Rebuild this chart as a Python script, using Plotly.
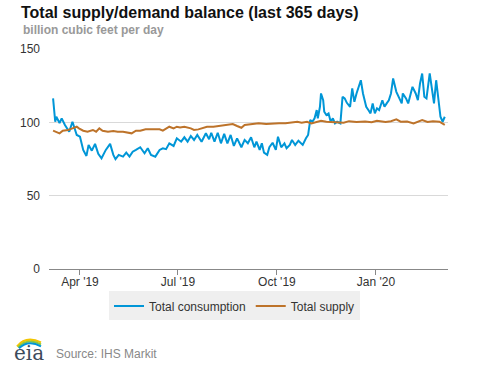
import plotly.graph_objects as go

# ---- data (billion cubic feet per day) ----
cons_dates = [
    "2019-03-07", "2019-03-09", "2019-03-10", "2019-03-13", "2019-03-15", "2019-03-18",
    "2019-03-22", "2019-03-25", "2019-03-29", "2019-04-01", "2019-04-04", "2019-04-07",
    "2019-04-09", "2019-04-12", "2019-04-15", "2019-04-18", "2019-04-21", "2019-04-25",
    "2019-04-29", "2019-05-02", "2019-05-04", "2019-05-07", "2019-05-11", "2019-05-14",
    "2019-05-17", "2019-05-20", "2019-05-23", "2019-05-27", "2019-05-31", "2019-06-03",
    "2019-06-06", "2019-06-10", "2019-06-14", "2019-06-17", "2019-06-20", "2019-06-23",
    "2019-06-27", "2019-06-30", "2019-07-04", "2019-07-07", "2019-07-10", "2019-07-13",
    "2019-07-16", "2019-07-19", "2019-07-23", "2019-07-27", "2019-07-30", "2019-08-01",
    "2019-08-04", "2019-08-07", "2019-08-10", "2019-08-13", "2019-08-16", "2019-08-19",
    "2019-08-22", "2019-08-25", "2019-08-29", "2019-09-01", "2019-09-04", "2019-09-07",
    "2019-09-10", "2019-09-12", "2019-09-15", "2019-09-17", "2019-09-19", "2019-09-22",
    "2019-09-24", "2019-09-27", "2019-09-30", "2019-10-02", "2019-10-05", "2019-10-08",
    "2019-10-10", "2019-10-13", "2019-10-15", "2019-10-18", "2019-10-21", "2019-10-25",
    "2019-10-28", "2019-10-30", "2019-11-01", "2019-11-03", "2019-11-05", "2019-11-07",
    "2019-11-08", "2019-11-10", "2019-11-11", "2019-11-13", "2019-11-14", "2019-11-16",
    "2019-11-18", "2019-11-20", "2019-11-22", "2019-11-24", "2019-11-26", "2019-11-29",
    "2019-12-01", "2019-12-03", "2019-12-05", "2019-12-08", "2019-12-10", "2019-12-12",
    "2019-12-14", "2019-12-18", "2019-12-20", "2019-12-23", "2019-12-25", "2019-12-27",
    "2019-12-29", "2019-12-31", "2020-01-02", "2020-01-04", "2020-01-07", "2020-01-09",
    "2020-01-11", "2020-01-13", "2020-01-15", "2020-01-17", "2020-01-20", "2020-01-22",
    "2020-01-25", "2020-01-26", "2020-01-29", "2020-01-31", "2020-02-02", "2020-02-04",
    "2020-02-07", "2020-02-09", "2020-02-11", "2020-02-13", "2020-02-15", "2020-02-17",
    "2020-02-20", "2020-02-22", "2020-02-24", "2020-02-26", "2020-02-28", "2020-03-01",
    "2020-03-03", "2020-03-05",
]
total_consumption = [
    116.3, 100.4, 103.8, 99.5, 102.7, 98.2,
    93.6, 100.4, 91.4, 90.2, 81.2, 77.1,
    84.6, 80.7, 85.3, 78.5, 75.5, 81.2,
    85.3, 77.8, 74.9, 77.8, 76.6, 79.3,
    76.6, 80.0, 81.2, 83.0, 78.9, 82.3,
    77.8, 76.6, 81.2, 82.3, 81.7, 85.7,
    83.9, 89.1, 86.8, 89.8, 86.8, 90.7,
    88.0, 91.4, 86.8, 92.5, 88.5, 92.9,
    86.8, 92.9, 85.7, 92.1, 85.7, 91.4,
    83.9, 89.1, 83.0, 88.0, 85.7, 89.8,
    83.0, 86.8, 81.2, 85.7, 79.3, 77.8,
    83.0, 86.1, 81.2, 90.2, 83.0, 85.7,
    82.3, 84.6, 88.0, 84.6, 87.5, 84.6,
    89.1, 91.4, 101.6, 100.4, 102.7, 108.4,
    102.7, 110.6, 119.7, 115.1, 107.2, 105.0,
    106.1, 100.4, 102.7, 99.3, 100.4, 99.3,
    117.4, 116.3, 113.3, 110.6, 123.1, 114.0,
    119.7, 128.7, 119.7, 110.6, 108.4, 106.1,
    112.9, 106.1, 109.5, 108.4, 115.1, 110.6,
    112.9, 115.1, 119.7, 129.9, 120.8, 117.4,
    112.9, 119.7, 116.3, 112.9, 119.7, 124.2,
    119.7, 115.1, 126.5, 133.3, 117.4, 116.3,
    133.3, 121.9, 112.9, 128.7, 115.1, 103.8,
    100.4, 103.8,
]

supply_dates = [
    "2019-03-07", "2019-03-10", "2019-03-13", "2019-03-16", "2019-03-21", "2019-03-25",
    "2019-03-29", "2019-03-31", "2019-04-04", "2019-04-08", "2019-04-13", "2019-04-16",
    "2019-04-19", "2019-04-22", "2019-04-27", "2019-05-02", "2019-05-06", "2019-05-11",
    "2019-05-16", "2019-05-19", "2019-05-23", "2019-05-27", "2019-06-01", "2019-06-05",
    "2019-06-10", "2019-06-14", "2019-06-17", "2019-06-20", "2019-06-23", "2019-06-27",
    "2019-06-30", "2019-07-03", "2019-07-07", "2019-07-13", "2019-07-16", "2019-07-20",
    "2019-07-24", "2019-07-28", "2019-08-03", "2019-08-10", "2019-08-17", "2019-08-21",
    "2019-08-25", "2019-08-29", "2019-09-01", "2019-09-08", "2019-09-14", "2019-09-21",
    "2019-09-27", "2019-10-03", "2019-10-09", "2019-10-15", "2019-10-20", "2019-10-24",
    "2019-10-29", "2019-11-02", "2019-11-07", "2019-11-11", "2019-11-16", "2019-11-24",
    "2019-12-02", "2019-12-07", "2019-12-14", "2019-12-22", "2019-12-28", "2020-01-02",
    "2020-01-10", "2020-01-15", "2020-01-20", "2020-01-24", "2020-01-30", "2020-02-05",
    "2020-02-10", "2020-02-13", "2020-02-18", "2020-02-23", "2020-02-29", "2020-03-03",
    "2020-03-05",
]
total_supply = [
    94.3, 93.6, 92.5, 94.3, 94.8, 95.9,
    97.0, 95.9, 94.3, 93.6, 94.8, 93.6,
    95.9, 94.3, 93.6, 94.1, 93.6, 93.6,
    92.9, 92.5, 94.3, 94.3, 95.2, 95.2,
    94.8, 95.2, 94.3, 95.9, 97.0, 95.9,
    97.0, 96.5, 97.0, 95.9, 94.8, 95.2,
    96.3, 97.0, 97.0, 97.7, 98.2, 98.8,
    97.5, 96.3, 98.2, 98.6, 99.3, 98.8,
    99.3, 99.3, 99.3, 99.7, 100.4, 99.7,
    100.4, 99.3, 100.4, 101.1, 100.4, 100.0,
    99.8, 100.8, 100.2, 100.6, 100.0, 101.1,
    100.3, 100.8, 102.0, 100.4, 100.6, 99.3,
    100.6, 101.6, 100.2, 100.8, 100.4, 99.4,
    98.2,
]

tick_dates = ["2019-04-01", "2019-07-01", "2019-10-01", "2020-01-01"]
tick_labels = ["Apr '19", "Jul '19", "Oct '19", "Jan '20"]
y_ticks = [0, 50, 100, 150]

# ---- figure geometry (pixels) ----
W, H = 477, 367
PL, PR, PT, PB = 49, 448, 49, 269.5


def px(x):
    return (x - PL) / (PR - PL)


def py(y):
    return (PB - y) / (PB - PT)


FONT = "Liberation Sans, Arial, sans-serif"
BLUE = "#0096d7"
BROWN = "#bd732a"

fig = go.Figure()
fig.add_trace(go.Scatter(x=cons_dates, y=total_consumption, mode="lines",
                         name="Total consumption",
                         line=dict(color=BLUE, width=2)))
fig.add_trace(go.Scatter(x=supply_dates, y=total_supply, mode="lines",
                         name="Total supply",
                         line=dict(color=BROWN, width=2)))

fig.update_layout(
    width=W, height=H,
    margin=dict(l=PL, r=W - PR, t=PT, b=H - PB, pad=0),
    paper_bgcolor="white", plot_bgcolor="white",
    font=dict(family=FONT, size=12, color="#333333"),
    showlegend=True,
    legend=dict(orientation="h", x=px(234.5), xanchor="center",
                y=py(292), yanchor="top",
                bgcolor="#efefef", borderwidth=0,
                font=dict(family=FONT, size=12, color="#333333"),
                itemwidth=30, tracegroupgap=0),
)
fig.update_xaxes(
    type="date",
    range=["2019-03-03 05:00", "2020-03-08"],
    tickvals=tick_dates, ticktext=tick_labels,
    ticks="outside", ticklen=5, tickcolor="#888888", tickwidth=1,
    ticklabelstandoff=-3,
    showgrid=False, showline=True, linecolor="#888888", linewidth=1,
    tickfont=dict(family=FONT, size=12, color="#333333"),
    zeroline=False, fixedrange=True,
)
fig.update_yaxes(
    range=[0, 150], tickvals=y_ticks,
    showgrid=True, gridcolor="#d9d9d9", gridwidth=1,
    zeroline=False, showline=False, ticks="",
    ticklabelstandoff=8,
    tickfont=dict(family=FONT, size=12, color="#333333"),
    fixedrange=True,
)

annotations = [
    dict(text="<b>Total supply/demand balance (last 365 days)</b>",
         x=px(19), y=py(12), xanchor="left", yanchor="middle",
         font=dict(family=FONT, size=16, color="#111111")),
    dict(text="<b>billion cubic feet per day</b>",
         x=px(21), y=py(30), xanchor="left", yanchor="middle",
         font=dict(family=FONT, size=12, color="#999999")),
    dict(text="Source: IHS Markit",
         x=px(54), y=py(355), xanchor="left", yanchor="middle",
         font=dict(family=FONT, size=12, color="#888888")),
    dict(text="eia",
         x=px(29), y=py(354), xanchor="center", yanchor="middle",
         font=dict(family="DejaVu Serif, serif", size=20, color="#3d4b5c")),
]
for a in annotations:
    a.update(xref="paper", yref="paper", showarrow=False)
fig.update_layout(annotations=annotations)


def arc(x0, y0, cx, cy, x1, y1, color, w):
    return dict(type="path", xref="paper", yref="paper",
                path=f"M {px(x0)},{py(y0)} Q {px(cx)},{py(cy)} {px(x1)},{py(y1)}",
                line=dict(color=color, width=w))


fig.update_layout(shapes=[
    arc(17, 347, 26, 336, 41, 343, "#f2c500", 2),
    arc(18, 348, 27, 338, 41, 345, "#8dc63f", 2),
    arc(19, 349, 28, 340, 41, 347, "#0096d7", 2),
])

fig.write_html(
    "out.html",
    config={"displayModeBar": False},
    post_script="document.body.style.margin='0px';document.body.style.overflow='hidden';",
)
